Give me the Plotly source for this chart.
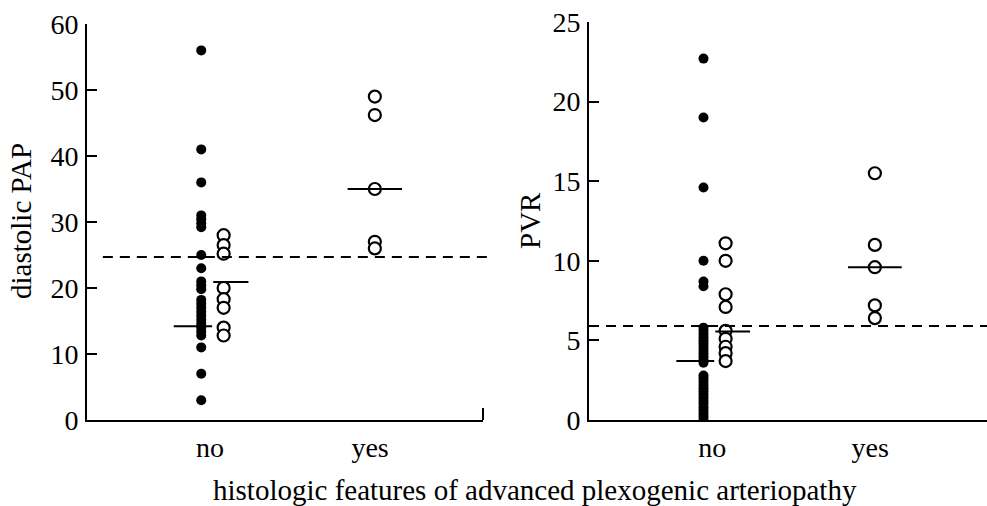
import plotly.graph_objects as go

# Diastolic pulmonary artery pressure by histology group
dpap_no_closed = [56, 41, 36, 31, 30.4, 29.8, 29.2, 25, 23, 21, 20.4, 19.8,
                  18.2, 17.6, 17, 16.4, 15.8, 15.2, 14.6, 14, 13.4, 12.8,
                  11, 7, 3]
dpap_no_open = [28, 26.5, 25.2, 20, 18.3, 17, 14, 12.8]
dpap_yes = [49, 46.2, 35, 27, 26]
dpap_lines = [14.2, 20.9, 35]          # group lines: no/closed, no/open, yes
dpap_cutoff = 24.7

# Pulmonary vascular resistance by histology group
pvr_no_closed = [22.7, 19, 14.6, 10, 8.7, 8.4,
                 5.8, 5.6, 5.4, 5.2, 5.0, 4.8, 4.6, 4.4, 4.2, 4.0, 3.8, 3.6,
                 2.8, 2.6, 2.4, 2.2, 2.0, 1.8, 1.6, 1.4, 1.2, 1.0, 0.8, 0.6,
                 0.4, 0.2, 0.0]
pvr_no_open = [11.1, 10, 7.9, 7.1, 5.6, 5.1, 4.6, 4.2, 3.7]
pvr_yes = [15.5, 11, 9.6, 7.2, 6.4]
pvr_lines = [3.7, 5.56, 9.6]
pvr_cutoff = 5.9

categories = ["no", "yes"]
cat_pos = [1, 2]

FONT = "Liberation Serif"
BLACK = "black"

fig = go.Figure()

# column positions inside each category
X_CLOSED, X_OPEN, X_YES = 0.945, 1.085, 2.03
LINE_SPEC = [(0.893, 0.12), (1.13, 0.11), (2.03, 0.17)]


def add_panel(xa, closed, opened, yes, lines):
    xr, yr = ("x", "y") if xa == 1 else ("x2", "y2")
    fig.add_trace(go.Scatter(
        x=[X_CLOSED] * len(closed), y=closed, mode="markers", xaxis=xr, yaxis=yr,
        marker=dict(size=10, color=BLACK, line=dict(width=0)), showlegend=False))
    fig.add_trace(go.Scatter(
        x=[X_OPEN] * len(opened), y=opened, mode="markers", xaxis=xr, yaxis=yr,
        marker=dict(size=12, color="white", line=dict(width=2.2, color=BLACK)),
        showlegend=False))
    fig.add_trace(go.Scatter(
        x=[X_YES] * len(yes), y=yes, mode="markers", xaxis=xr, yaxis=yr,
        marker=dict(size=12, color="white", line=dict(width=2.2, color=BLACK)),
        showlegend=False))
    for (cx, hw), val in zip(LINE_SPEC, lines):
        fig.add_trace(go.Scatter(
            x=[cx - hw, cx + hw], y=[val, val], mode="lines", xaxis=xr, yaxis=yr,
            line=dict(color=BLACK, width=2), showlegend=False))


add_panel(1, dpap_no_closed, dpap_no_open, dpap_yes, dpap_lines)
add_panel(2, pvr_no_closed, pvr_no_open, pvr_yes, pvr_lines)

# cutoff lines
fig.add_shape(type="line", xref="x domain", yref="y", x0=0.04, x1=1.01,
              y0=dpap_cutoff, y1=dpap_cutoff,
              line=dict(color=BLACK, width=2, dash="10px,7px"))
fig.add_shape(type="line", xref="x2 domain", yref="y2", x0=0.0, x1=1.0,
              y0=pvr_cutoff, y1=pvr_cutoff,
              line=dict(color=BLACK, width=2, dash="10px,7px"))
# end tick on the left panel's baseline
fig.add_shape(type="line", xref="x domain", yref="y domain", x0=1, x1=1,
              y0=0, y1=0.03, line=dict(color=BLACK, width=2))

tickfont = dict(family=FONT, size=28, color=BLACK)
titlefont = dict(family=FONT, size=29, color=BLACK)
xcommon = dict(tickmode="array", tickvals=cat_pos, ticktext=categories,
               showline=True, linecolor=BLACK, linewidth=2, ticks="",
               showgrid=False, zeroline=False, tickfont=tickfont,
               ticklabelstandoff=1, fixedrange=True)
ycommon = dict(showline=True, linecolor=BLACK, linewidth=2, ticks="inside",
               ticklen=10, tickwidth=2, tickcolor=BLACK, showgrid=False,
               zeroline=False, tickfont=tickfont, ticklabelstandoff=1,
               automargin=False)

fig.update_layout(
    width=987, height=506,
    margin=dict(l=0, r=0, t=0, b=0),
    paper_bgcolor="white", plot_bgcolor="white",
    xaxis=dict(domain=[87 / 987, 483 / 987], range=[0.231, 2.706], anchor="y",
               automargin=False, **xcommon),
    yaxis=dict(domain=[86 / 506, 482 / 506], range=[0, 60], dtick=10,
               anchor="x", **ycommon),
    xaxis2=dict(domain=[589 / 987, 1.0], range=[0.22, 2.74], anchor="y2",
                automargin=False, **xcommon),
    yaxis2=dict(domain=[86 / 506, 484 / 506], range=[0, 25], dtick=5,
                anchor="x2", **ycommon),
    annotations=[
        dict(text="diastolic PAP", xref="paper", yref="paper", x=21 / 987,
             y=1 - 221 / 506, xanchor="center", yanchor="middle",
             textangle=-90, showarrow=False, font=titlefont),
        dict(text="PVR", xref="paper", yref="paper", x=530 / 987,
             y=1 - 221 / 506, xanchor="center", yanchor="middle",
             textangle=-90, showarrow=False, font=titlefont),
        dict(text="histologic features of advanced plexogenic arteriopathy",
             xref="paper", yref="paper", x=535 / 987, y=1 - 490 / 506,
             xanchor="center", yanchor="middle", showarrow=False,
             font=titlefont),
    ],
)

fig.write_html("out.html")
